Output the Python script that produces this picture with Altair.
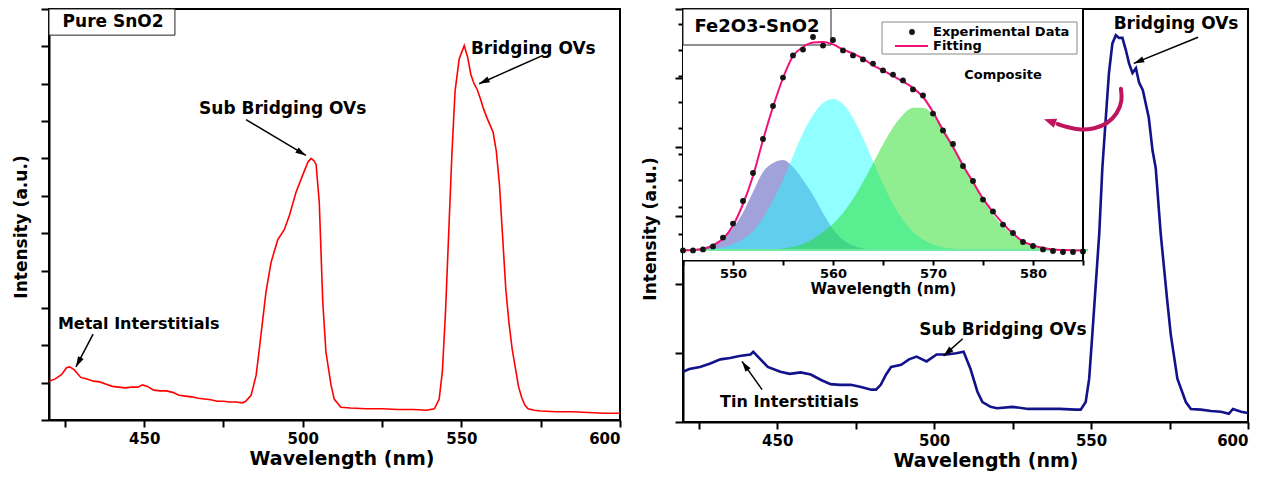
import math
import altair as alt
import pandas as pd

# ---------------- data ----------------
left_wl = [420, 422, 424, 425.5, 426.5, 428, 430, 432, 434, 436, 438, 440, 442, 444, 446, 448, 449.5, 451, 453, 455,
           457, 459, 461, 463, 465, 467, 469, 471, 473, 475, 477, 479, 481, 482, 483.7, 485.3, 486.3, 487.4, 488.4, 490,
           492.1, 494.2, 495.8, 497.9, 500, 501.6, 502.6, 503.5, 504.2, 505.2, 506.3, 507.3, 508.9, 509.9, 512, 515,
           520, 525, 530, 535, 539, 541.5, 543, 544, 545, 546, 547, 548, 549.3, 550.9, 552, 553, 554, 555, 556, 557,
           558, 559, 560, 561, 562, 563, 564, 565, 566, 567, 568, 569, 570, 571, 573, 575, 580, 585, 590, 595, 600]
left_int = [.52, .55, .61, .70, .71, .67, .57, .55, .52, .51, .48, .45, .44, .43, .44, .44, .47, .45, .40, .39,
            .39, .37, .33, .32, .31, .29, .28, .27, .25, .25, .24, .24, .23, .25, .33, .60, .95, 1.35, 1.71, 2.11,
            2.41, 2.55, 2.74, 3.05, 3.28, 3.45, 3.50, 3.47, 3.42, 2.91, 1.58, .91, .47, .28, .17, .16,
            .15, .15, .14, .14, .13, .15, .28, .65, 1.45, 2.5, 3.55, 4.4, 4.83, 5.01, 4.85, 4.62, 4.5, 4.42, 4.3, 4.16,
            4.05, 3.95, 3.85, 3.6, 3.15, 2.45, 1.75, 1.3, .95, .7, .45, .3, .2, .15, .13, .12, .11, .11, .10, .09, .09]

right_wl = [420, 422, 425.4, 428.7, 431.9, 435, 438, 441.5, 442.4, 444.7, 447, 451, 454, 457.5, 460.7, 464, 467, 470,
            473.5, 476.7, 480, 481.5, 483, 484.7, 486.3, 489.5, 492, 494.4, 497.6, 500.8, 504, 507, 509.4, 511.6,
            513.8, 515.4, 518, 520, 525, 530, 535, 540, 545, 546.7, 548.3, 549.4, 550.4, 551.5, 552.6, 553.6, 554.7,
            555.7, 556.8, 557.9, 558.9, 560, 561.1, 562.1, 563.2, 564.3, 565.3, 566.5, 568.4, 569.6, 570.6, 572.2,
            574.3, 575.4, 577.5, 580.2, 581.8, 585, 588.2, 591.4, 593.9, 595.2, 597.8, 600]
right_int = [.73, .77, .80, .85, .91, .93, .96, .98, 1.02, .91, .80, .73, .70, .72, .69, .61, .55, .54,
             .54, .51, .47, .47, .54, .69, .80, .83, .91, .95, .88, .98, .98, 1.0, 1.02, .77,
             .44, .29, .22, .2, .22, .19, .19, .19, .18, .18, .29, .63, 1.27, 2.0, 2.73, 3.69, 4.42,
             5.07, 5.5, 5.62, 5.58, 5.58, 5.4, 5.21, 5.07, 5.14, 4.93, 4.82, 4.42, 3.94, 3.69, 2.73,
             1.75, 1.27, .63, .29, .19, .18, .16, .15, .12, .19, .15, .13]

inset_wl = [545, 546, 547, 548, 549, 550, 551, 552, 553, 554, 555, 556, 557, 558, 559, 560, 561, 562, 563, 564,
            565, 566, 567, 568, 569, 570, 571, 572, 573, 574, 575, 576, 577, 578, 579, 580, 581, 582, 583, 584, 585]
inset_exp = [.048, .048, .053, .068, .112, .182, .295, .435, .605, .77, .912, 1.023, 1.052, 1.115, 1.072, 1.1,
             1.048, 1.023, 1.003, .982, .948, .927, .898, .853, .823, .732, .648, .58, .47, .395, .302, .243, .177,
             .135, .09, .07, .053, .045, .04, .04, .043]
inset_fit = [.048, .05, .055, .073, .107, .173, .28, .42, .6, .765, .91, 1.02, 1.065, 1.087, 1.09, 1.078, 1.053,
             1.032, 1.007, .973, .948, .92, .893, .86, .815, .74, .648, .565, .473, .39, .307, .24, .182, .132, .093,
             .073, .06, .053, .05, .048, .048]
inset_peak1 = [.052, .055, .063, .08, .113, .16, .238, .34, .44, .485, .50, .465, .40, .325, .235, .155, .10, .072,
               .058, .053, .051, .05, .05, .05, .05, .05, .05, .05, .05, .05, .05, .05, .05, .05, .05, .05, .05, .05,
               .05, .05, .05]
inset_peak2 = [.05, .051, .053, .057, .064, .08, .105, .145, .21, .30, .40, .52, .635, .725, .785, .805, .78, .71,
               .61, .495, .38, .28, .20, .142, .102, .078, .064, .057, .053, .051, .05, .05, .05, .05, .05, .05, .05,
               .05, .05, .05, .05]
inset_peak3 = [.05, .05, .05, .05, .05, .05, .05, .051, .052, .054, .058, .065, .08, .105, .14, .18, .235, .305,
               .39, .483, .578, .663, .726, .761, .761, .726, .663, .578, .483, .389, .302, .228, .17, .127, .097,
               .077, .065, .058, .054, .052, .051]
inset_baseline = 0.05
inset_baseline_end = 585.5

# annotations (data coordinates)
left_labels = ["Metal Interstitials", "Sub Bridging OVs", "Bridging OVs"]
left_label_x = [422.8, 467.3, 553.0]
left_label_y = [1.28, 4.16, 4.96]
left_label_size = [16, 17, 17]
left_arrow_x1 = [433.9, 482.1, 575.7]
left_arrow_y1 = [1.15, 4.02, 4.88]
left_arrow_x2 = [428.5, 501.0, 555.6]
left_arrow_y2 = [0.71, 3.54, 4.50]
left_box = {"label": "Pure SnO2", "x1": 420, "x2": 459.7, "y1": 5.15, "y2": 5.5, "tx": 440.2, "ty": 5.33}

right_labels = ["Tin Interstitials", "Sub Bridging OVs", "Bridging OVs"]
right_label_x = [431.8, 495.3, 557.2]
right_label_y = [0.29, 1.34, 5.78]
right_label_size = [16, 17, 17]
right_arrow_x1 = [445.2, 509.1, 584.1]
right_arrow_y1 = [0.47, 1.21, 5.59]
right_arrow_x2 = [438.8, 503.0, 563.6]
right_arrow_y2 = [0.88, 0.96, 5.21]

inset_box = {"label": "Fe2O3-SnO2", "x1": 545, "x2": 559.8, "y1": 1.075, "y2": 1.255, "tx": 552.4, "ty": 1.163}
legend_box = {"x1": 564.9, "x2": 584.4, "y1": 1.03, "y2": 1.19}
legend_labels = ["Experimental Data", "Fitting"]
legend_label_x = [570.0, 570.0]
legend_label_y = [1.14, 1.07]
legend_dot = {"x": 567.9, "y": 1.14}
legend_line = {"x1": 566.2, "x2": 569.5, "y": 1.07}
composite_label = {"label": "Composite", "x": 577.0, "y": 0.925}

curve_arrow_x = [559.5, 560.0, 558.4, 555.2, 551.0, 546.7, 542.5, 539.3]
curve_arrow_y = [4.84, 4.67, 4.48, 4.33, 4.26, 4.24, 4.28, 4.33]
curve_arrow_tip = {"x": 535.0, "y": 4.40}

# ---------------- layout / style ----------------
FONT = "DejaVu Sans"
W_L, H_L = 571, 411
W_R, H_R = 565, 413
Y_L_MAX, Y_R_MAX = 5.5, 6.0
IN_W, IN_H = 400, 251
ARROW = "M0,0L0.6,2L-0.6,2Z"
RED = "#ff0000"
NAVY = "#12128a"
PINK = "#f0127a"

label_50 = "datum.value % 50 === 0 ? datum.label : ''"
label_10 = "datum.value % 10 === 0 ? datum.label : ''"


def head_angles(x1, y1, x2, y2, sx, sy):
    out = []
    for a, b, c, d in zip(x1, y1, x2, y2):
        dx = (c - a) * sx
        dy = -(d - b) * sy
        out.append(math.degrees(math.atan2(dx, -dy)) % 360)
    return out


def x_axis_main(title_x):
    return alt.Axis(values=[425, 450, 475, 500, 525, 550, 575, 600], labelExpr=label_50, format="d",
                    title="Wavelength (nm)", tickSize=7, labelFontSize=15, titleFontSize=19,
                    labelPadding=4, titlePadding=3, orient="bottom", titleX=title_x)


def y_axis_main(values, pad, title_y):
    return alt.Axis(values=values, labels=False, tickSize=8, title="Intensity (a.u.)",
                    titleFontSize=17, titlePadding=pad, orient="left", titleY=title_y)


# ---------------- left panel ----------------
sxL = alt.Scale(domain=[420, 600], nice=False, zero=False)
syL = alt.Scale(domain=[0, Y_L_MAX], nice=False, zero=False)
axXL = x_axis_main(W_L / 2 + 7)
axYL = y_axis_main([0, .5, 1, 1.5, 2, 2.5, 3, 3.5, 4, 4.5, 5, 5.5], 10, H_L / 2 + 12)

left_df = pd.DataFrame({"wl": left_wl, "inten": left_int})
left_line = alt.Chart(left_df).mark_line(color=RED, strokeWidth=1.6).encode(
    x=alt.X("wl:Q", scale=sxL, axis=axXL), y=alt.Y("inten:Q", scale=syL, axis=axYL))

la_df = pd.DataFrame({"label": left_labels, "x": left_label_x, "y": left_label_y, "size": left_label_size})
left_text = alt.Chart(la_df).mark_text(align="left", baseline="middle", font=FONT, fontWeight="bold",
                                       color="black").encode(
    x=alt.X("x:Q", scale=sxL, axis=axXL), y=alt.Y("y:Q", scale=syL, axis=axYL), text="label:N",
    size=alt.Size("size:Q", scale=None, legend=None))

lar_df = pd.DataFrame({"x1": left_arrow_x1, "y1": left_arrow_y1, "x2": left_arrow_x2, "y2": left_arrow_y2,
                       "ang": head_angles(left_arrow_x1, left_arrow_y1, left_arrow_x2, left_arrow_y2,
                                          W_L / 180, H_L / Y_L_MAX)})
left_arrows = alt.Chart(lar_df).mark_rule(color="black", strokeWidth=1.5).encode(
    x=alt.X("x1:Q", scale=sxL, axis=axXL), y=alt.Y("y1:Q", scale=syL, axis=axYL), x2="x2:Q", y2="y2:Q")
left_heads = alt.Chart(lar_df).mark_point(shape=ARROW, filled=True, color="black", size=110, opacity=1).encode(
    x=alt.X("x2:Q", scale=sxL, axis=axXL), y=alt.Y("y2:Q", scale=syL, axis=axYL),
    angle=alt.Angle("ang:Q", scale=None))

lb_df = pd.DataFrame([left_box])
left_boxr = alt.Chart(lb_df).mark_rect(fill="white", stroke="#222", strokeWidth=1).encode(
    x=alt.X("x1:Q", scale=sxL, axis=axXL), x2="x2:Q", y=alt.Y("y1:Q", scale=syL, axis=axYL), y2="y2:Q")
left_boxt = alt.Chart(lb_df).mark_text(font=FONT, fontWeight="bold", fontSize=17, color="black",
                                       baseline="middle").encode(
    x=alt.X("tx:Q", scale=sxL, axis=axXL), y=alt.Y("ty:Q", scale=syL, axis=axYL), text="label:N")

left = alt.layer(left_line, left_arrows, left_heads, left_text, left_boxr, left_boxt).properties(
    width=W_L, height=H_L)

# ---------------- right panel: main ----------------
sxR = alt.Scale(domain=[420, 600], nice=False, zero=False)
syR = alt.Scale(domain=[0, Y_R_MAX], nice=False, zero=False)
axXR = x_axis_main(W_R / 2 + 20)
axYR = y_axis_main([0, 1, 2, 3, 4, 5, 6], 15, H_R / 2 + 13)

right_df = pd.DataFrame({"wl": right_wl, "inten": right_int})
right_line = alt.Chart(right_df).mark_line(color=NAVY, strokeWidth=2.6).encode(
    x=alt.X("wl:Q", scale=sxR, axis=axXR), y=alt.Y("inten:Q", scale=syR, axis=axYR))

ra_df = pd.DataFrame({"label": right_labels, "x": right_label_x, "y": right_label_y, "size": right_label_size})
right_text = alt.Chart(ra_df).mark_text(align="left", baseline="middle", font=FONT, fontWeight="bold",
                                        color="black").encode(
    x=alt.X("x:Q", scale=sxR, axis=axXR), y=alt.Y("y:Q", scale=syR, axis=axYR), text="label:N",
    size=alt.Size("size:Q", scale=None, legend=None))

rar_df = pd.DataFrame({"x1": right_arrow_x1, "y1": right_arrow_y1, "x2": right_arrow_x2, "y2": right_arrow_y2,
                       "ang": head_angles(right_arrow_x1, right_arrow_y1, right_arrow_x2, right_arrow_y2,
                                          W_R / 180, H_R / Y_R_MAX)})
right_arrows = alt.Chart(rar_df).mark_rule(color="black", strokeWidth=1.5).encode(
    x=alt.X("x1:Q", scale=sxR, axis=axXR), y=alt.Y("y1:Q", scale=syR, axis=axYR), x2="x2:Q", y2="y2:Q")
right_heads = alt.Chart(rar_df).mark_point(shape=ARROW, filled=True, color="black", size=110, opacity=1).encode(
    x=alt.X("x2:Q", scale=sxR, axis=axXR), y=alt.Y("y2:Q", scale=syR, axis=axYR),
    angle=alt.Angle("ang:Q", scale=None))

right_main = alt.layer(right_line, right_arrows, right_heads, right_text)

# ---------------- right panel: inset ----------------
sxI = alt.Scale(domain=[545, 585], range=[0, IN_W], nice=False, zero=False)
syI = alt.Scale(domain=[0, 1.255], range=[IN_H, 0], nice=False, zero=False)
axXI = alt.Axis(orient="bottom", offset=-(H_R - IN_H), values=[545, 550, 555, 560, 565, 570, 575, 580, 585],
                labelExpr=label_10, format="d", tickSize=5, labelFontSize=13, title="Wavelength (nm)",
                titleFontSize=15, labelPadding=2, titlePadding=1)
axYI = alt.Axis(orient="left", values=[0.13, 0.265, 0.4, 0.53, 0.66, 0.79, 0.92, 1.05, 1.18], labels=False,
                tickSize=5, title=None)


def XI(field):
    return alt.X(field, scale=sxI, axis=axXI)


def YI(field):
    return alt.Y(field, scale=syI, axis=axYI)


in_df = pd.DataFrame({"wl": inset_wl, "exp": inset_exp, "fit": inset_fit, "p1": inset_peak1,
                      "p2": inset_peak2, "p3": inset_peak3, "base": [inset_baseline] * len(inset_wl)})
frame_df = pd.DataFrame({"x1": [inset_wl[0]], "x2": [inset_wl[-1]], "y1": [0], "y2": [1.255]})

in_bg = alt.Chart(frame_df).mark_rect(fill="white").encode(x=XI("x1:Q"), x2="x2:Q", y=YI("y1:Q"), y2="y2:Q")
area1 = alt.Chart(in_df).mark_area(color="#7b7bcc", opacity=0.7, interpolate="monotone").encode(
    x=XI("wl:Q"), y=YI("p1:Q"), y2="base:Q")
area2 = alt.Chart(in_df).mark_area(color="#1affff", opacity=0.48, interpolate="monotone").encode(
    x=XI("wl:Q"), y=YI("p2:Q"), y2="base:Q")
area3 = alt.Chart(in_df).mark_area(color="#22dd22", opacity=0.5, interpolate="monotone").encode(
    x=XI("wl:Q"), y=YI("p3:Q"), y2="base:Q")
base_df = pd.DataFrame({"x1": [inset_wl[0]], "x2": [inset_baseline_end], "y": [inset_baseline]})
base_rule = alt.Chart(base_df).mark_rule(color="#70eaa0", strokeWidth=2).encode(
    x=XI("x1:Q"), x2="x2:Q", y=YI("y:Q"))

ib_df = pd.DataFrame([inset_box])
in_boxr = alt.Chart(ib_df).mark_rect(fill="white", stroke="#222", strokeWidth=1).encode(
    x=XI("x1:Q"), x2="x2:Q", y=YI("y1:Q"), y2="y2:Q")
in_boxt = alt.Chart(ib_df).mark_text(font=FONT, fontWeight="bold", fontSize=18, color="black",
                                     baseline="middle").encode(x=XI("tx:Q"), y=YI("ty:Q"), text="label:N")

fit_line = alt.Chart(in_df).mark_line(color=PINK, strokeWidth=2, interpolate="monotone").encode(
    x=XI("wl:Q"), y=YI("fit:Q"))
dots = alt.Chart(in_df).mark_circle(color="#151515", size=34, opacity=1).encode(x=XI("wl:Q"), y=YI("exp:Q"))

lg_df = pd.DataFrame([legend_box])
lg_box = alt.Chart(lg_df).mark_rect(fill="white", stroke="#888", strokeWidth=1).encode(
    x=XI("x1:Q"), x2="x2:Q", y=YI("y1:Q"), y2="y2:Q")
lgt_df = pd.DataFrame({"label": legend_labels, "x": legend_label_x, "y": legend_label_y})
lg_text = alt.Chart(lgt_df).mark_text(align="left", baseline="middle", font=FONT, fontWeight="bold",
                                      fontSize=13, color="black").encode(x=XI("x:Q"), y=YI("y:Q"), text="label:N")
lg_dot = alt.Chart(pd.DataFrame([legend_dot])).mark_circle(color="#151515", size=34, opacity=1).encode(
    x=XI("x:Q"), y=YI("y:Q"))
lg_line = alt.Chart(pd.DataFrame([legend_line])).mark_rule(color=PINK, strokeWidth=2).encode(
    x=XI("x1:Q"), x2="x2:Q", y=YI("y:Q"))
comp = alt.Chart(pd.DataFrame([composite_label])).mark_text(font=FONT, fontWeight="bold", fontSize=13,
                                                            color="black", baseline="middle").encode(
    x=XI("x:Q"), y=YI("y:Q"), text="label:N")
in_right = alt.Chart(frame_df).mark_rule(color="black", strokeWidth=2).encode(
    x=XI("x2:Q"), y=YI("y1:Q"), y2="y2:Q")

inset = alt.layer(in_bg, area1, area2, area3, base_rule, in_boxr, in_boxt, fit_line, dots,
                  lg_box, lg_text, lg_dot, lg_line, comp, in_right)

# ---------------- right panel: curved arrow overlay ----------------
sxO = alt.Scale(domain=[420, 600], nice=False, zero=False)
syO = alt.Scale(domain=[0, Y_R_MAX], nice=False, zero=False)
ca_df = pd.DataFrame({"x": curve_arrow_x, "y": curve_arrow_y, "i": list(range(len(curve_arrow_x)))})
curve = alt.Chart(ca_df).mark_line(color="#c0145f", strokeWidth=4, interpolate="basis", strokeCap="round").encode(
    x=alt.X("x:Q", scale=sxO, axis=None), y=alt.Y("y:Q", scale=syO, axis=None), order="i:Q")
tip_df = pd.DataFrame({"x": [curve_arrow_tip["x"]], "y": [curve_arrow_tip["y"]],
                       "ang": head_angles([curve_arrow_x[-1]], [curve_arrow_y[-1]], [curve_arrow_tip["x"]],
                                          [curve_arrow_tip["y"]], W_R / 180, H_R / Y_R_MAX)})
curve_head = alt.Chart(tip_df).mark_point(shape="M0,0L0.8,2L-0.8,2Z", filled=True, color="#c0145f",
                                          size=150, opacity=1).encode(
    x=alt.X("x:Q", scale=sxO, axis=None), y=alt.Y("y:Q", scale=syO, axis=None),
    angle=alt.Angle("ang:Q", scale=None))
overlay = alt.layer(curve, curve_head)

right = alt.layer(right_main, inset, overlay).resolve_scale(x="independent", y="independent").properties(
    width=W_R, height=H_R)

chart = alt.hconcat(left, right, spacing=15).properties(
    padding={"left": 11, "top": 7, "right": 5, "bottom": 0}, background="white"
).configure_view(stroke="black", strokeWidth=2).configure_axis(
    domainColor="black", domainWidth=2, tickColor="black", tickWidth=2, grid=False,
    labelFont=FONT, labelFontWeight="bold", labelColor="black",
    titleFont=FONT, titleFontWeight="bold", titleColor="black")

chart.save("out.html", embed_options={"renderer": "svg", "actions": False})
